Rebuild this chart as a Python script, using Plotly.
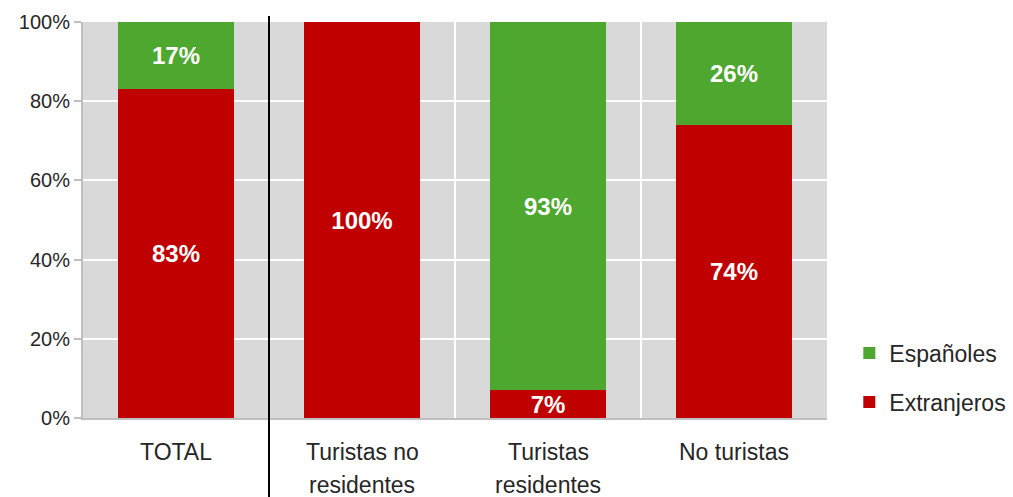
import plotly.graph_objects as go

categories = ["TOTAL", "Turistas no\nresidentes", "Turistas\nresidentes", "No turistas"]
extranjeros = [83, 100, 7, 74]
espanoles = [17, 0, 93, 26]
y_ticks = [0, 20, 40, 60, 80, 100]
y_ticktext = ["0%", "20%", "40%", "60%", "80%", "100%"]

FONT = "Liberation Sans"
xs = list(range(len(categories)))

def lbl(v):
    return f"{v}%" if v > 0 else ""

fig = go.Figure()
fig.add_trace(go.Bar(
    x=xs, y=extranjeros, name="Extranjeros", marker_color="#C00000",
    text=[lbl(v) for v in extranjeros], textposition="inside", insidetextanchor="middle",
    textfont=dict(color="white", size=24, family=FONT, weight="bold"),
    width=0.62, legendrank=2, legendgroup="ext", marker_line_width=0,
))
fig.add_trace(go.Bar(
    x=xs, y=espanoles, name="Españoles", marker_color="#4EA72E",
    text=[lbl(v) for v in espanoles], textposition="inside", insidetextanchor="middle",
    textfont=dict(color="white", size=24, family=FONT, weight="bold"),
    width=0.62, legendrank=1, legendgroup="esp", marker_line_width=0,
))

# category labels (two-line spacing like the original)
for i, c in enumerate(categories):
    lines = c.split("\n")
    for j, line in enumerate(lines):
        fig.add_annotation(x=xs[i], xref="x", yref="paper", y=-0.086 - j * 0.083,
                           text=line, showarrow=False, yanchor="middle",
                           font=dict(size=23, color="#262626", family=FONT))

# black separator
fig.add_shape(type="line", xref="x", yref="paper", x0=0.5, x1=0.5, y0=1.015, y1=-0.21,
              line=dict(color="black", width=2), layer="above")

fig.update_layout(
    barmode="stack",
    width=1013, height=497,
    margin=dict(l=83, r=186, t=22, b=79, autoexpand=False),
    paper_bgcolor="white", plot_bgcolor="#D9D9D9",
    font=dict(family=FONT, color="#262626"),
    uniformtext=dict(minsize=20, mode="show"),
    legend=dict(traceorder="grouped", tracegroupgap=16, x=1.03, y=0.102,
                xanchor="left", yanchor="middle", font=dict(size=23, color="#262626"),
                itemwidth=30),
    xaxis=dict(range=[-0.5, 3.5], tickvals=xs, showticklabels=False, showgrid=False,
               showline=True, linecolor="#BFBFBF", linewidth=2, zeroline=False, automargin=False,
               minor=dict(showgrid=True, tick0=0.5, dtick=1, gridcolor="white", gridwidth=2)),
    yaxis=dict(range=[0, 100], tickvals=y_ticks, ticktext=y_ticktext, showgrid=True,
               gridcolor="white", gridwidth=2, showline=True, linecolor="#BFBFBF", linewidth=2,
               ticks="outside", ticklen=7, tickcolor="#BFBFBF", tickwidth=2, automargin=False,
               tickfont=dict(size=20, color="#262626"), zeroline=False),
)

fig.write_html("out.html", config={"displayModeBar": False},
               post_script="document.body.style.margin='0';document.body.style.overflow='hidden';")
